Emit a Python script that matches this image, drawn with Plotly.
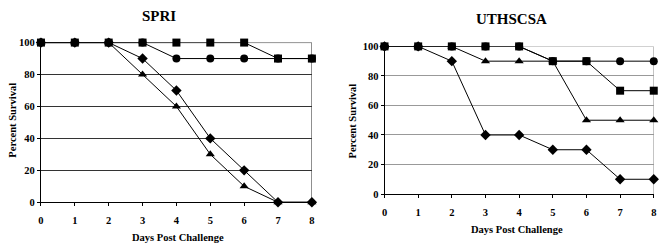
import plotly.graph_objects as go

days = [0, 1, 2, 3, 4, 5, 6, 7, 8]
tick_days = ["0", "1", "2", "3", "4", "5", "6", "7", "8"]
tick_pct = [0, 20, 40, 60, 80, 100]

# SPRI panel
spri_square = [100, 100, 100, 100, 100, 100, 100, 90, 90]
spri_circle = [100, 100, 100, 100, 90, 90, 90, 90, 90]
spri_diamond = [100, 100, 100, 90, 70, 40, 20, 0, 0]
spri_triangle = [100, 100, 100, 80, 60, 30, 10, 0, 0]

# UTHSCSA panel
uth_square = [100, 100, 100, 100, 100, 90, 90, 70, 70]
uth_circle = [100, 100, 100, 100, 100, 90, 90, 90, 90]
uth_triangle = [100, 100, 100, 90, 90, 90, 50, 50, 50]
uth_diamond = [100, 100, 90, 40, 40, 30, 30, 10, 10]

FONT = "Liberation Serif, Times New Roman, serif"
fig = go.Figure()

def add(xa, ya, ys, symbol, size):
    fig.add_trace(go.Scatter(
        x=days, y=ys, xaxis=xa, yaxis=ya, mode="lines+markers",
        line=dict(color="black", width=1),
        marker=dict(symbol=symbol, size=size, color="black"),
        cliponaxis=False, showlegend=False))

add("x", "y", spri_triangle, "triangle-up", 8)
add("x", "y", spri_diamond, "diamond", 8)
add("x", "y", spri_circle, "circle", 8)
add("x", "y", spri_square, "square", 8)

add("x2", "y2", uth_diamond, "diamond", 8)
add("x2", "y2", uth_triangle, "triangle-up", 8)
add("x2", "y2", uth_circle, "circle", 8)
add("x2", "y2", uth_square, "square", 8)

tickfont = dict(family=FONT, size=10.5, color="black", weight="bold")

def xaxis(domain, anchor):
    return dict(domain=domain, anchor=anchor, range=[0, 8], tickvals=days, ticktext=tick_days,
                showgrid=False, zeroline=False, showline=True, linecolor="black", linewidth=1,
                ticks="outside", ticklen=3, tickcolor="black", tickfont=tickfont,
                ticklabelstandoff=5)

def yaxis(domain, anchor, gridcolor):
    return dict(domain=domain, anchor=anchor, range=[0, 100], tickvals=tick_pct,
                showgrid=True, gridcolor=gridcolor, gridwidth=1, zeroline=False,
                showline=True, linecolor="black", linewidth=1,
                ticks="outside", ticklen=3, tickcolor="black", tickfont=tickfont)

fig.update_layout(
    width=664, height=251, margin=dict(l=0, r=0, t=0, b=0),
    paper_bgcolor="white", plot_bgcolor="white",
    xaxis=xaxis([38.3 / 664, 311.7 / 664], "y"),
    yaxis=yaxis([44.7 / 251, 211.7 / 251], "x", "#333333"),
    xaxis2=xaxis([385 / 664, 656.7 / 664], "y2"),
    yaxis2=yaxis([53.3 / 251, 207.7 / 251], "x2", "#999999"),
)

# plot-area borders (top & right)
for xr, yr, col in [("x", "y", "#333333"), ("x2", "y2", "#999999")]:
    fig.add_shape(type="line", xref=xr, yref=yr, x0=0, x1=8, y0=100, y1=100,
                  line=dict(color=col, width=1), layer="below")
    fig.add_shape(type="line", xref=xr, yref=yr, x0=8, x1=8, y0=0, y1=100,
                  line=dict(color=col, width=1), layer="below")

def ann(text, x, y, size, angle=0):
    fig.add_annotation(text=text, x=x / 664, y=1 - y / 251, xref="paper", yref="paper",
                       showarrow=False, textangle=angle, xanchor="center", yanchor="middle",
                       font=dict(family=FONT, size=size, color="black", weight="bold"))

ann("SPRI", 157, 12, 15)
ann("UTHSCSA", 513, 15, 15)
ann("Days Post Challenge", 177, 243, 10.5)
ann("Days Post Challenge", 519, 235, 10.5)
ann("Percent Survival", 10, 120, 10.5, -90)
ann("Percent Survival", 353, 121, 10.5, -90)

fig.write_html("out.html", config={"displayModeBar": False},
               post_script="document.body.style.margin='0';document.body.style.overflow='hidden';")
